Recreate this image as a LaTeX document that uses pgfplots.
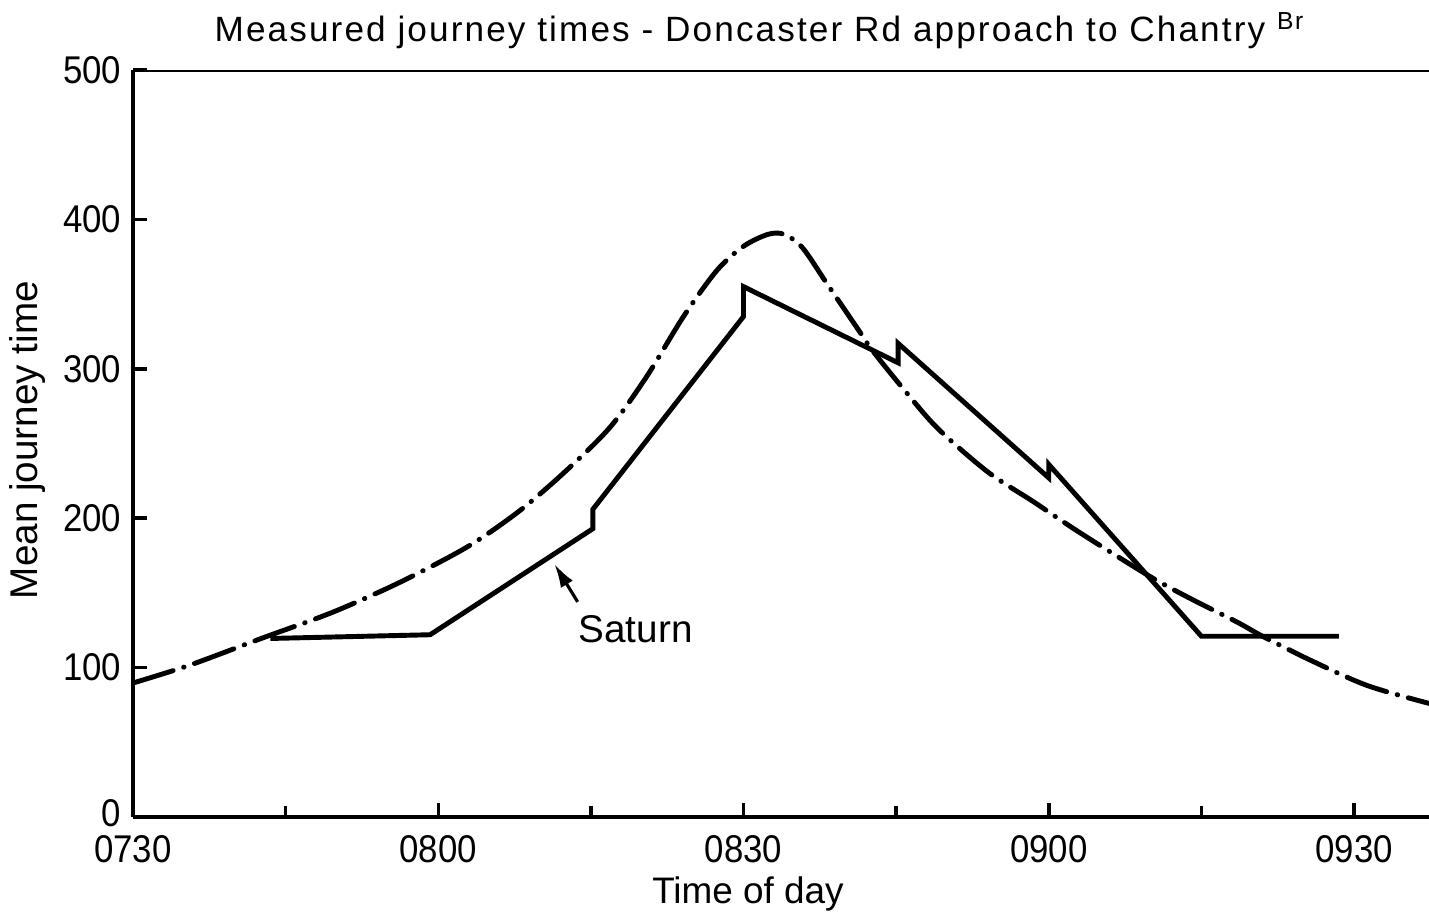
\documentclass[border=0pt]{standalone}
\usepackage{fontspec}
\setmainfont{Liberation Sans}
\newfontfamily\tickfont{Liberation Sans}[FakeStretch=0.9]
\newfontfamily\titlefont{Liberation Sans}[LetterSpace=6]
\usepackage{pgfplots}
\pgfplotsset{compat=1.18}
\usepackage{pgfplotstable}
\usetikzlibrary{arrows.meta}

\pgfplotstableread{
t v
0    89.7
5.6  101.7
12.8 120
19.6 137
26.2 157
32.9 181
38.0 205
42.6 232
46.9 261
50.5 295
54.1 335
57.4 366
60.0 382
62.4 390
64.0 390
65.8 381
68.2 357
71.2 327
72.7 312
75.9 285
79.1 260
84.0 231
88.5 211
92.9 191
99.7 162
103.7 147
108.5 130.5
111.0 121
115.7 105
121.3 88
127.4 76
}\measured

\pgfplotstableread{
t v
13.5 119.5
29.2 122
45.2 193
45.2 206
60.0 335
60.0 355
75.2 304
75.2 317
90.0 227
90.0 236
105.0 121
118.5 121
}\saturn

\begin{document}
\begin{tikzpicture}
\begin{axis}[
  scale only axis,
  width=12.96cm, height=7.47cm,
  at={(1.33cm,1.00cm)}, anchor=south west,
  xmin=0, xmax=127.37, ymin=0, ymax=500,
  axis lines=left,
  axis line style={-, line width=1pt},
  xtick={0,30,60,90,120},
  xticklabels={0730,0800,0830,0900,0930},
  minor xtick={15,45,75,105},
  ytick={0,100,200,300,400,500},
  yticklabels={\raisebox{0.9mm}{0},100,200,300,400,500},
  tick align=inside,
  major tick length=1.4mm,
  minor tick length=1.1mm,
  tick style={line width=1pt, black},
  xticklabel style={font=\tickfont\fontsize{11}{13}\selectfont, anchor=base, inner sep=0pt, yshift=-4.5mm},
  yticklabel style={font=\tickfont\fontsize{11}{13}\selectfont, inner sep=0pt, xshift=-1.1mm},
  clip=true,
]
\addplot[black, line width=1.4pt, line cap=round, smooth,
  dash pattern=on 4.2mm off 1.1mm on 0.05mm off 1.1mm] table[x=t,y=v] {\measured};
\addplot[black, line width=1.4pt, line join=miter] table[x=t,y=v] {\saturn};
\draw[line width=1pt] (rel axis cs:0,1) -- (rel axis cs:1,1);
\node[font=\fontsize{11}{13}\selectfont] at (axis cs:49.4,126) {Saturn};
\draw[line width=0.9pt, -{Latex[length=2.4mm,width=1.4mm]}] (axis cs:43.7,144) -- (axis cs:41.4,169.5);
\end{axis}
\node[anchor=base, font=\titlefont\fontsize{10}{12}\selectfont] at (7.59cm,8.75cm)
  {Measured journey times - Doncaster Rd approach to Chantry \raisebox{0.7ex}{\fontsize{7}{8}\selectfont Br}};
\node[rotate=90, font=\fontsize{11}{13}\selectfont] at (0.28cm,4.77cm) {Mean journey time};
\node[anchor=base, font=\fontsize{10.5}{12}\selectfont] at (7.48cm,0.14cm) {Time of day};
\pgfresetboundingbox
\path (0,0) rectangle (14.29cm,9.17cm);
\end{tikzpicture}
\end{document}
